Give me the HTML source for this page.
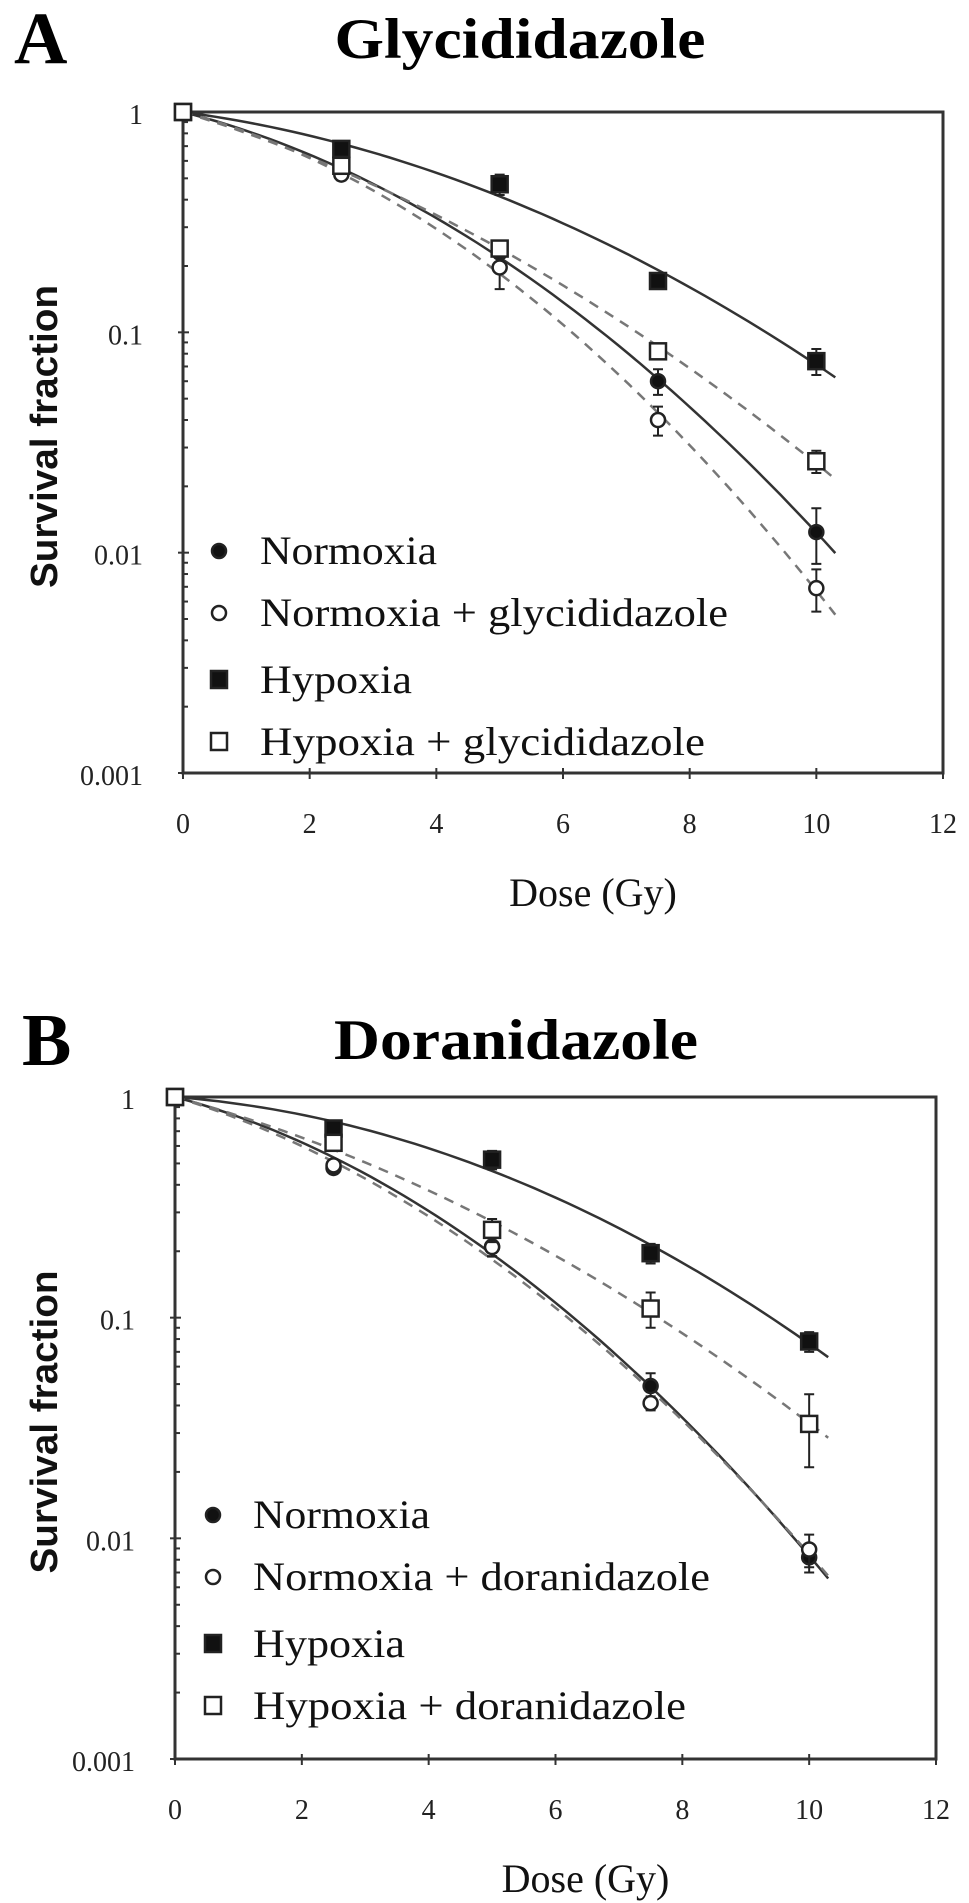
<!DOCTYPE html>
<html><head><meta charset="utf-8"><style>
html,body{margin:0;padding:0;background:#fff;}
svg{display:block;}
</style></head><body>
<svg id="fig" width="969" height="1903" viewBox="0 0 969 1903" xmlns="http://www.w3.org/2000/svg">
<g id="panelA"></g>
<g id="panelB"></g>
</svg>
<script>
// ---- shared axis data ----
const doses = [0, 2.5, 5, 7.5, 10];
const xTicks = [0, 2, 4, 6, 8, 10, 12];
const yTicks = [1, 0.1, 0.01, 0.001];
const yTickLabels = ["1", "0.1", "0.01", "0.001"];

// ---- Panel A data (Glycididazole) ----
const aNormoxia = [1, 0.53, 0.23, 0.060, 0.0124];
const aNormoxiaErr = [0, 0.03, 0.03, 0.008, 0.0035];
const aNormoxiaDrug = [1, 0.52, 0.197, 0.040, 0.0069];
const aNormoxiaDrugErr = [0, 0.03, 0.04, 0.006, 0.0015];
const aHypoxia = [1, 0.68, 0.47, 0.171, 0.074];
const aHypoxiaErr = [0, 0.05, 0.05, 0.01, 0.010];
const aHypoxiaDrug = [1, 0.57, 0.24, 0.082, 0.026];
const aHypoxiaDrugErr = [0, 0.03, 0.02, 0.006, 0.003];
const aLegend = ["Normoxia", "Normoxia + glycididazole", "Hypoxia", "Hypoxia + glycididazole"];

// ---- Panel B data (Doranidazole) ----
const bNormoxia = [1, 0.477, 0.21, 0.049, 0.0082];
const bNormoxiaErr = [0, 0.02, 0.02, 0.007, 0.0012];
const bNormoxiaDrug = [1, 0.49, 0.209, 0.041, 0.0089];
const bNormoxiaDrugErr = [0, 0.02, 0.02, 0.003, 0.0015];
const bHypoxia = [1, 0.72, 0.52, 0.196, 0.078];
const bHypoxiaErr = [0, 0.04, 0.05, 0.02, 0.008];
const bHypoxiaDrug = [1, 0.62, 0.25, 0.11, 0.033];
const bHypoxiaDrugErr = [0, 0.04, 0.03, 0.02, 0.012];
const bLegend = ["Normoxia", "Normoxia + doranidazole", "Hypoxia", "Hypoxia + doranidazole"];

const NS = "http://www.w3.org/2000/svg";
function mk(parent, tag, attrs) {
  const e = document.createElementNS(NS, tag);
  for (const k in attrs) e.setAttribute(k, attrs[k]);
  parent.appendChild(e);
  return e;
}
// least-squares LQ fit: ln S = -a D - b D^2
function fitLQ(ds, vs) {
  let s11=0,s12=0,s22=0,t1=0,t2=0;
  for (let i=0;i<ds.length;i++){const d=ds[i],y=-Math.log(vs[i]);
    s11+=d*d; s12+=d*d*d; s22+=d*d*d*d; t1+=d*y; t2+=d*d*y;}
  const det=s11*s22-s12*s12;
  return [(t1*s22-t2*s12)/det,(s11*t2-s12*t1)/det];
}

function drawPanel(g, cfg) {
  const L=cfg.left,R=cfg.right,T=cfg.top,B=cfg.bottom;
  const xs = d => L + d/12*(R-L);
  const ys = v => T + (-Math.log10(v))/3*(B-T);

  let t = mk(g,'text',{x:cfg.letterX,y:cfg.letterY,'font-family':'Liberation Serif, serif','font-weight':'bold','font-size':74});
  t.textContent = cfg.letter;
  
  
  t = mk(g,'text',{x:cfg.titleX,y:cfg.titleY,'text-anchor':'middle','font-family':'Liberation Serif, serif','font-weight':'bold','font-size':57,textLength:cfg.titleW,lengthAdjust:'spacingAndGlyphs'});
  t.textContent = cfg.title;
  
  

  const frame = mk(g,'rect',{x:L,y:T,width:R-L,height:B-T,fill:'none',stroke:'#333','stroke-width':3});
  
  

  // y ticks
  yTicks.forEach((v,i)=>{
    const y=ys(v);
    const tk=mk(g,'line',{x1:L-5,x2:L+6,y1:y,y2:y,stroke:'#333','stroke-width':2});
    
    
    const lb=mk(g,'text',{x:L-40,y:y+12,'text-anchor':'end','font-family':'Liberation Serif, serif','font-size':28,fill:'#222'});
    lb.textContent=yTickLabels[i];
    
    
    if (i<yTicks.length-1) for(let m=2;m<=9;m++){
      const ym=ys(v/10*m);
      const mt=mk(g,'line',{x1:L,x2:L+5,y1:ym,y2:ym,stroke:'#333','stroke-width':2});
      
      
    }
  });
  xTicks.forEach(d=>{
    const x=xs(d);
    const tk=mk(g,'line',{x1:x,x2:x,y1:B-5,y2:B+6,stroke:'#333','stroke-width':2});
    
    
    const lb=mk(g,'text',{x:x,y:B+60,'text-anchor':'middle','font-family':'Liberation Serif, serif','font-size':28,fill:'#222'});
    lb.textContent=String(d);
    
    
  });
  t=mk(g,'text',{x:(L+R)/2+30,y:B+133,'text-anchor':'middle','font-family':'Liberation Serif, serif','font-size':40,fill:'#111'});
  t.textContent='Dose (Gy)';
  
  
  const yc=(T+B)/2-6;
  t=mk(g,'text',{x:0,y:0,'text-anchor':'middle','font-family':'Liberation Sans, sans-serif','font-weight':'bold','font-size':38,fill:'#111',textLength:303,lengthAdjust:'spacingAndGlyphs',transform:`translate(57,${yc}) rotate(-90)`});
  t.textContent='Survival fraction';
  
  

  // curves
  cfg.series.forEach(s=>{
    const p=fitLQ(doses,s.vals);
    let dstr='';
    for(let k=0;k<=60;k++){const d=10.3*k/60;const v=Math.exp(-p[0]*d-p[1]*d*d);
      dstr+=(k?'L':'M')+xs(d).toFixed(1)+','+ys(v).toFixed(1);}
    const c=mk(g,'path',{d:dstr,fill:'none',stroke:s.dash?'#777':'#333','stroke-width':s.dash?2.5:2.5,'stroke-dasharray':s.dash?'10,8':'none'});
    
    
  });
  // points
  cfg.series.forEach(s=>{
    s.vals.forEach((v,i)=>{
      const x=xs(doses[i]),y=ys(v);
      if(s.err[i]>0){
        const y1=ys(v+s.err[i]),y2=ys(Math.max(v-s.err[i],1e-4));
        const eb=mk(g,'path',{d:`M${x},${y1}L${x},${y2}M${x-5},${y1}L${x+5},${y1}M${x-5},${y2}L${x+5},${y2}`,stroke:'#222','stroke-width':2,fill:'none'});
        
        
      }
      let m;
      if(s.shape==='circle') m=mk(g,'circle',{cx:x,cy:y,r:7,fill:s.filled?'#111':'#fff',stroke:'#222','stroke-width':2.5});
      else m=mk(g,'rect',{x:x-8,y:y-8,width:16,height:16,fill:s.filled?'#111':'#fff',stroke:'#222','stroke-width':2.5});
      
      
    });
  });
  // legend
  cfg.series.forEach((s,i)=>{
    const y=cfg.legY[i];
    let m;
    if(s.shape==='circle') m=mk(g,'circle',{cx:cfg.legX,cy:y,r:7,fill:s.filled?'#111':'#fff',stroke:'#222','stroke-width':2.5});
    else m=mk(g,'rect',{x:cfg.legX-8,y:y-9,width:16,height:17,fill:s.filled?'#111':'#fff',stroke:'#222','stroke-width':2.5});
    
    
    const lt=mk(g,'text',{x:cfg.legTextX,y:y+13,'font-family':'Liberation Serif, serif','font-size':40,fill:'#111',textLength:cfg.legW[i],lengthAdjust:'spacingAndGlyphs'});
    lt.textContent=cfg.legend[i];
    
    
  });
}

drawPanel(document.getElementById('panelA'),{
  left:183,right:943,top:112,bottom:773,
  letter:'A',letterX:14,letterY:63,title:'Glycididazole',titleX:520,titleY:58,titleW:371,
  legX:219,legTextX:260,legY:[551,613,680,742],legW:[177,468,152,445],legend:aLegend,
  series:[
    {name:'normoxia',vals:aNormoxia,err:aNormoxiaErr,shape:'circle',filled:true,dash:false},
    {name:'normoxia-drug',vals:aNormoxiaDrug,err:aNormoxiaDrugErr,shape:'circle',filled:false,dash:true},
    {name:'hypoxia',vals:aHypoxia,err:aHypoxiaErr,shape:'square',filled:true,dash:false},
    {name:'hypoxia-drug',vals:aHypoxiaDrug,err:aHypoxiaDrugErr,shape:'square',filled:false,dash:true}
  ]
});
drawPanel(document.getElementById('panelB'),{
  left:175,right:936,top:1097,bottom:1759,
  letter:'B',letterX:22,letterY:1065,title:'Doranidazole',titleX:516,titleY:1059,titleW:364,
  legX:213,legTextX:253,legY:[1515,1577,1644,1706],legW:[177,457,152,433],legend:bLegend,
  series:[
    {name:'normoxia',vals:bNormoxia,err:bNormoxiaErr,shape:'circle',filled:true,dash:false},
    {name:'normoxia-drug',vals:bNormoxiaDrug,err:bNormoxiaDrugErr,shape:'circle',filled:false,dash:true},
    {name:'hypoxia',vals:bHypoxia,err:bHypoxiaErr,shape:'square',filled:true,dash:false},
    {name:'hypoxia-drug',vals:bHypoxiaDrug,err:bHypoxiaDrugErr,shape:'square',filled:false,dash:true}
  ]
});
</script>
</body></html>
